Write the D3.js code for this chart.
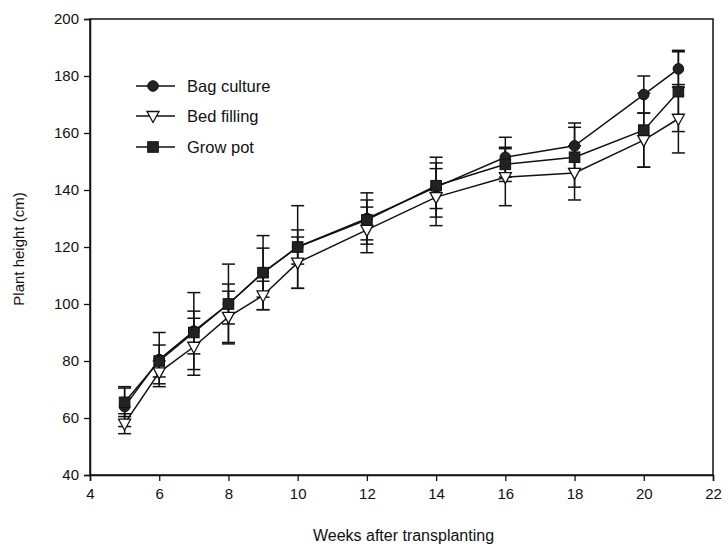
<!DOCTYPE html>
<html><head><meta charset="utf-8">
<script src="https://cdn.jsdelivr.net/npm/d3@7"></script>
<style>body{margin:0;background:#fff}svg{display:block}text{font-family:"Liberation Sans",Arial,sans-serif;fill:#111}</style>
</head><body><svg id="c" width="728" height="551"></svg>
<script>
const weeks = [5,6,7,8,9,10,12,14,16,18,20,21];
const bagCulture = [64,80.5,90.5,100,111,120,130,141,151.5,155.5,173.5,182.5];
const bagErr     = [7,9.5,13.5,14,13,14.5,9,10.5,7,8,6.5,6.5];
const bedFilling = [58,76,85,95.5,103,114.5,126,137.5,144.5,146,157.5,165];
const bedErr     = [3.5,4,10,9,5,9,8,10,10,9.5,9.5,12];
const growPot    = [65.5,80,90,100,111,120,129.5,141.5,149,151.5,161,174.5];
const growErr    = [5,5.6,7.5,7,8.6,6,7,8,6,10.5,13,14];
const seriesNames = ["Bag culture","Bed filling","Grow pot"];
const xTicks = [4,6,8,10,12,14,16,18,20,22];
const yTicks = [40,60,80,100,120,140,160,180,200];

const svg = d3.select("#c");
const L=90,R=713,T=19,B=475;
const x = d3.scaleLinear().domain([4,22]).range([L,R]);
const y = d3.scaleLinear().domain([40,200]).range([B,T]);

const series = [
  {name:seriesNames[0], vals:bagCulture, err:bagErr, shape:"circle"},
  {name:seriesNames[1], vals:bedFilling, err:bedErr, shape:"tri"},
  {name:seriesNames[2], vals:growPot, err:growErr, shape:"square"}
];

svg.append("rect").attr("x",L).attr("y",T).attr("width",R-L).attr("height",B-T)
  .attr("fill","none").attr("stroke","#111").attr("stroke-width",1.5);

const xa = svg.append("g").attr("transform",`translate(0,${B})`)
  .call(d3.axisBottom(x).tickValues(xTicks).tickSize(6).tickPadding(5).tickFormat(d3.format("d")));
const ya = svg.append("g").attr("transform",`translate(${L},0)`)
  .call(d3.axisLeft(y).tickValues(yTicks).tickSize(6).tickPadding(5).tickFormat(d3.format("d")));
[xa,ya].forEach(a=>{a.select(".domain").attr("stroke","#111").attr("stroke-width",1.5);
  a.selectAll(".tick line").attr("stroke","#111").attr("stroke-width",1.3);
  a.selectAll("text").attr("font-size",15).attr("font-family","Liberation Sans, Arial").attr("fill","#111");});
xa.selectAll("text").attr("dy","0.85em");

svg.append("text").attr("x",(L+R)/2+2).attr("y",541).attr("text-anchor","middle").attr("font-size",16).text("Weeks after transplanting");
svg.append("text").attr("transform",`translate(24,${(T+B)/2+2}) rotate(-90)`).attr("text-anchor","middle").attr("font-size",15).text("Plant height (cm)");

function drawMarker(g, shape, cx, cy){
  if(shape==="circle") g.append("circle").attr("cx",cx).attr("cy",cy).attr("r",5.3).attr("fill","#222").attr("stroke","#111");
  else if(shape==="square") g.append("rect").attr("x",cx-5.3).attr("y",cy-5.3).attr("width",10.6).attr("height",10.6).attr("fill","#222").attr("stroke","#111");
  else g.append("path").attr("d",`M${cx-6},${cy-4.5}L${cx+6},${cy-4.5}L${cx},${cy+6.5}Z`).attr("fill","#fff").attr("stroke","#111").attr("stroke-width",1.3);
}

const cw = 6.5;
series.forEach(s=>{
  const g = svg.append("g").attr("stroke","#111").attr("stroke-width",1.5);
  weeks.forEach((w,i)=>{
    const cx=x(w), hi=y(s.vals[i]+s.err[i]), lo=y(s.vals[i]-s.err[i]);
    g.append("line").attr("x1",cx).attr("x2",cx).attr("y1",hi).attr("y2",lo);
    g.append("line").attr("x1",cx-cw).attr("x2",cx+cw).attr("y1",hi).attr("y2",hi);
    g.append("line").attr("x1",cx-cw).attr("x2",cx+cw).attr("y1",lo).attr("y2",lo);
  });
});
const line = d3.line().x((d,i)=>x(weeks[i])).y(d=>y(d));
series.forEach(s=>{
  svg.append("path").datum(s.vals).attr("d",line).attr("fill","none").attr("stroke","#111").attr("stroke-width",1.5);
});
series.forEach(s=>{
  const g = svg.append("g");
  weeks.forEach((w,i)=>drawMarker(g,s.shape,x(w),y(s.vals[i])));
});

const legY=[86,116,147];
series.forEach((s,k)=>{
  const g=svg.append("g");
  g.append("line").attr("x1",136).attr("x2",175).attr("y1",legY[k]).attr("y2",legY[k]).attr("stroke","#111").attr("stroke-width",1.5);
  drawMarker(g,s.shape,153,legY[k]);
  g.append("text").attr("x",187).attr("y",legY[k]+6).attr("font-size",16.5).text(s.name);
});
</script></body></html>
